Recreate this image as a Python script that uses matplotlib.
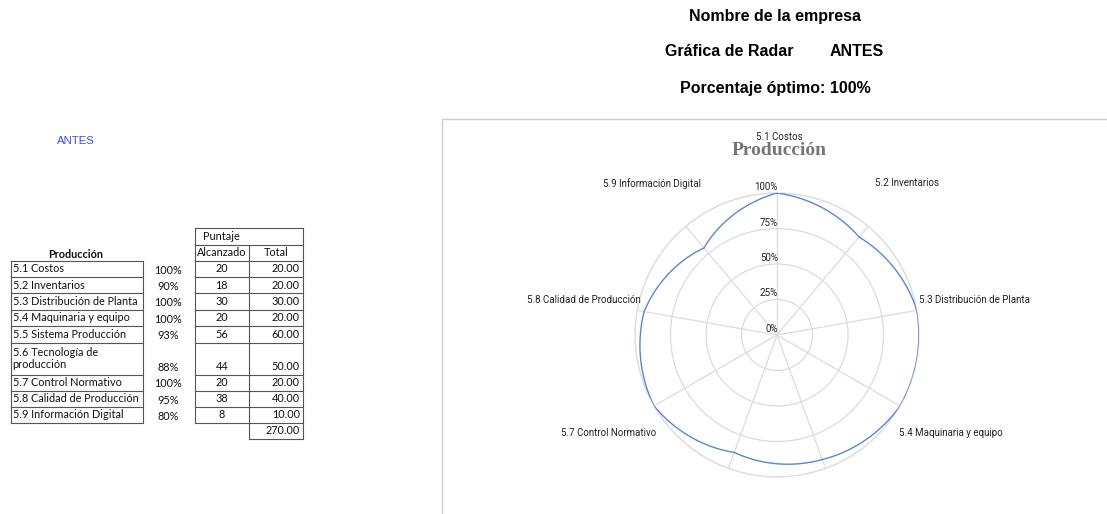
import numpy as np
import matplotlib
matplotlib.use("Agg")
import matplotlib.pyplot as plt
from matplotlib.lines import Line2D

# table / radar data
criterios = ["5.1 Costos", "5.2 Inventarios", "5.3 Distribución de Planta",
             "5.4 Maquinaria y equipo", "5.5 Sistema Producción",
             "5.6 Tecnología de\nproducción", "5.7 Control Normativo",
             "5.8 Calidad de Producción", "5.9 Información Digital"]
alcanzado = [20, 18, 30, 20, 56, 44, 20, 38, 8]
total = [20.00, 20.00, 30.00, 20.00, 60.00, 50.00, 20.00, 40.00, 10.00]
radar_labels = ["5.1 Costos", "5.2 Inventarios", "5.3 Distribución de Planta",
                "5.4 Maquinaria y equipo", "", "", "5.7 Control Normativo",
                "5.8 Calidad de Producción", "5.9 Información Digital"]
rticks = [0.0, 0.25, 0.5, 0.75, 1.0]

porcentaje = [a / t for a, t in zip(alcanzado, total)]

W, H = 1107, 514
fig = plt.figure(figsize=(W / 100, H / 100), dpi=100)


def fx(x):
    return x / W


def fy(y):
    return 1 - y / H


def hline(x0, x1, y, **kw):
    fig.add_artist(Line2D([fx(x0), fx(x1)], [fy(y), fy(y)], **kw))


def vline(x, y0, y1, **kw):
    fig.add_artist(Line2D([fx(x), fx(x)], [fy(y0), fy(y1)], **kw))


def ftext(x, y, s, **kw):
    fig.text(fx(x), fy(y), s, **kw)


# ---- headers ----
hdr = dict(family="Liberation Sans", weight="bold", fontsize=11.5, va="center")
ftext(775, 16, "Nombre de la empresa", ha="center", **hdr)
ftext(665, 52, "Gráfica de Radar", ha="left", **hdr)
ftext(830, 52, "ANTES", ha="left", **hdr)
ftext(775, 88, "Porcentaje óptimo: 100%", ha="center", **hdr)
ftext(76, 141, "ANTES", ha="center", va="center", family="Liberation Sans",
      fontsize=8.2, color="#3a4cf5")

# ---- table ----
tf = dict(family="Lato", fontsize=7.8, color="#111111")
lk = dict(color="#555555", lw=0.8)
bounds = [260.7, 277, 293.3, 309.5, 326, 342.5, 374.5, 390.5, 406.7, 423]
x_lab0, x_lab1 = 10.7, 143
x_p0, x_mid, x_p1 = 195, 248.5, 303

ftext(76, 255, "Producción", ha="center", va="center", weight="bold", **tf)
# puntaje header
hline(x_p0, x_p1, 228, **lk)
hline(x_p0, x_p1, 245, **lk)
ftext(203, 237, "Puntaje", ha="left", va="center", **tf)
ftext((x_p0 + x_mid) / 2, 253, "Alcanzado", ha="center", va="center", **tf)
ftext((x_mid + x_p1) / 2, 253, "Total", ha="center", va="center", **tf)
vline(x_p0, 228, bounds[-1], **lk)
vline(x_p1, 228, 439, **lk)
vline(x_mid, 245, 439, **lk)

for y in bounds:
    hline(x_lab0, x_lab1, y, **lk)
    hline(x_p0, x_p1, y, **lk)
hline(x_mid, x_p1, 439, **lk)
vline(x_lab0, bounds[0], bounds[-1], **lk)
vline(x_lab1, bounds[0], bounds[-1], **lk)

for i, name in enumerate(criterios):
    top, bot = bounds[i], bounds[i + 1]
    yc = (top + bot) / 2
    ylast = bot - 8.1
    ftext(x_lab0 + 2, yc, name, ha="left", va="center", linespacing=1.2, **tf)
    ftext(168, ylast + 1.5, f"{porcentaje[i] * 100:.0f}%", ha="center", va="center", **tf)
    ftext((x_p0 + x_mid) / 2, ylast, f"{alcanzado[i]}", ha="center", va="center", **tf)
    ftext(x_p1 - 3, ylast, f"{total[i]:.2f}", ha="right", va="center", **tf)
ftext(x_p1 - 3, 431, f"{sum(total):.2f}", ha="right", va="center", **tf)

# ---- chart frame ----
vline(441.5, 119, 520, color="#cccccc", lw=1)
hline(441.5, 1110, 119, color="#cccccc", lw=1)

# ---- radar ----
cx, cy, R = 777, 335, 142
ax = fig.add_axes([fx(cx - R), fy(cy + R), 2 * R / W, 2 * R / H], projection="polar")
ax.set_theta_zero_location("N")
ax.set_theta_direction(-1)
n = len(porcentaje)
theta = np.linspace(0, 2 * np.pi, n, endpoint=False)
ax.set_ylim(0, 1)
ax.set_xticks(theta)
ax.set_xticklabels([])
ax.set_yticks(rticks[1:])
ax.set_yticklabels([])
ax.tick_params(length=0)
ax.grid(True, color="#dcdcdc", lw=0.9)
ax.spines["polar"].set_color("#dcdcdc")
ax.spines["polar"].set_linewidth(0.9)

# close the loop at 2*pi so the last segment runs forward
vals = porcentaje + porcentaje[:1]
th = list(theta) + [2 * np.pi]
line, = ax.plot(th, vals, color="#5b85d6", lw=1.0, zorder=5)
# draw segments in polar space (curved between spokes)
line.get_path()._interpolation_steps = 60

lab = dict(family="Roboto", fontsize=7.0, color="#222222", va="center")
offsets = [(2, 56, "center"), (7, 43, "left"), (2, 10, "left"), (-1, -27, "left"),
           (0, 0, "center"), (0, 0, "center"), (2, -27, "right"), (4, 10, "right"),
           (15, 43, "right")]
for t, s, (dx, dy, ha) in zip(theta, radar_labels, offsets):
    if s:
        ax.annotate(s, xy=(t, 1.0), xytext=(dx, dy), textcoords="offset pixels",
                    ha=ha, annotation_clip=False, **lab)

for r in rticks:
    ax.annotate(f"{r * 100:.0f}%", xy=(0, r), xytext=(1, 6), textcoords="offset pixels",
                ha="right", annotation_clip=False, **lab)

fig.text(fx(779), fy(150), "Producción", ha="center", va="center",
         family="Liberation Serif", weight="bold", fontsize=14, color="#757575")

fig.savefig("out.png", dpi=100)
